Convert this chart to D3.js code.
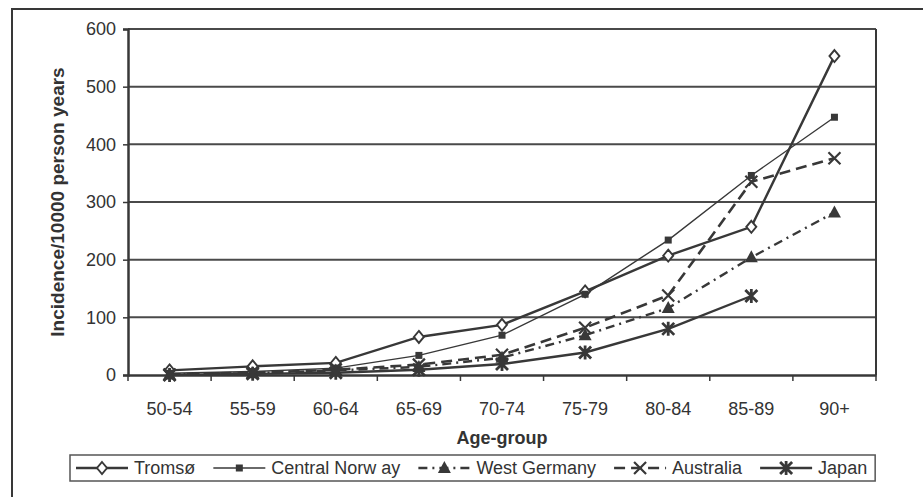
<!DOCTYPE html>
<html>
<head>
<meta charset="utf-8">
<script src="https://cdn.jsdelivr.net/npm/d3@7"></script>
<style>
  body { margin: 0; background: #fff; }
  text { font-family: "Liberation Sans", Arial, sans-serif; fill: #333; }
</style>
</head>
<body>
<div class="plot1"></div>
<script>
var ageGroups = ["50-54", "55-59", "60-64", "65-69", "70-74", "75-79", "80-84", "85-89", "90+"];
var yTicks = [0, 100, 200, 300, 400, 500, 600];
var tromso = [8, 15, 21, 66, 87, 145, 207, 257, 553];
var centralNorway = [3, 6, 12, 34, 69, 140, 234, 346, 447];
var westGermany = [1, 3, 8, 14, 30, 69, 116, 204, 282];
var australia = [1, 4, 9, 18, 35, 82, 138, 335, 376];
var japan = [0, 2, 4, 9, 19, 39, 80, 137, null];
var seriesNames = ["Tromsø", "Central Norw ay", "West Germany", "Australia", "Japan"];

var ink = "#383838";
var series = [
  {name: seriesNames[0], values: tromso, width: 2.4, dash: null, marker: "diamond"},
  {name: seriesNames[1], values: centralNorway, width: 1.4, dash: null, marker: "square"},
  {name: seriesNames[2], values: westGermany, width: 2.4, dash: "9,5,2,5", marker: "triangle"},
  {name: seriesNames[3], values: australia, width: 2.6, dash: "11,6", marker: "cross"},
  {name: seriesNames[4], values: japan, width: 2.4, dash: null, marker: "asterisk"}
];

var svg = d3.select(".plot1").append("svg")
  .attr("width", 923)
  .attr("height", 497);

// outer frame (cropped on the right and bottom)
svg.append("path")
  .attr("d", "M12,497 L12,9 L923,9")
  .attr("fill", "none")
  .attr("stroke", ink)
  .attr("stroke-width", 2);

var plotLeft = 128, plotRight = 876, plotTop = 29, plotBottom = 375;

var x = d3.scaleBand().domain(ageGroups).range([plotLeft, plotRight]);
var y = d3.scaleLinear().domain([0, 600]).range([plotBottom, plotTop]);

// grid lines
svg.append("g").selectAll("line")
  .data(yTicks.filter(function(d) { return d > 0; }))
  .enter().append("line")
  .attr("x1", plotLeft).attr("x2", plotRight)
  .attr("y1", function(d) { return y(d); })
  .attr("y2", function(d) { return y(d); })
  .attr("stroke", "#4a4a4a")
  .attr("stroke-width", 2);

// right border
svg.append("line")
  .attr("x1", plotRight).attr("x2", plotRight).attr("y1", plotTop).attr("y2", plotBottom)
  .attr("stroke", ink).attr("stroke-width", 2);

// y axis
var yAxis = svg.append("g")
  .attr("transform", "translate(" + plotLeft + ",0)")
  .call(d3.axisLeft(y).tickValues(yTicks).tickSize(5).tickPadding(7));
yAxis.select(".domain").attr("stroke", ink).attr("stroke-width", 2.5);
yAxis.selectAll(".tick line").attr("stroke", ink).attr("stroke-width", 1.5);
yAxis.selectAll(".tick text")
  .style("font-size", "18px").attr("fill", "#333");

// x axis
var xAxis = svg.append("g")
  .attr("transform", "translate(0," + plotBottom + ")")
  .call(d3.axisBottom(x).tickSize(0).tickPadding(27));
xAxis.select(".domain").attr("stroke", ink).attr("stroke-width", 2.5);
xAxis.selectAll(".tick text")
  .style("font-size", "18px").attr("fill", "#333");
xAxis.append("g").selectAll("line")
  .data(d3.range(ageGroups.length + 1))
  .enter().append("line")
  .attr("x1", function(i) { return plotLeft + i * x.step(); })
  .attr("x2", function(i) { return plotLeft + i * x.step(); })
  .attr("y1", 0).attr("y2", 6)
  .attr("stroke", ink).attr("stroke-width", 1.5);

// axis titles
svg.append("text")
  .attr("transform", "translate(64," + ((plotTop + plotBottom) / 2) + ") rotate(-90)")
  .attr("text-anchor", "middle")
  .style("font-size", "19px")
  .style("font-weight", "bold")
  .text("Incidence/10000 person years");

svg.append("text")
  .attr("x", (plotLeft + plotRight) / 2)
  .attr("y", 444)
  .attr("text-anchor", "middle")
  .style("font-size", "18px")
  .style("font-weight", "bold")
  .text("Age-group");

function drawMarker(g, type) {
  if (type === "diamond") {
    g.append("path").attr("d", "M0,-6 L5,0 L0,6 L-5,0 Z")
      .attr("fill", "#fff").attr("stroke", ink).attr("stroke-width", 1.9);
  } else if (type === "square") {
    g.append("rect").attr("x", -3.5).attr("y", -3.5).attr("width", 7).attr("height", 7)
      .attr("fill", ink);
  } else if (type === "triangle") {
    g.append("path").attr("d", "M0,-7 L6.5,5 L-6.5,5 Z").attr("fill", ink);
  } else if (type === "cross") {
    g.append("path").attr("d", "M-6,-6 L6,6 M-6,6 L6,-6")
      .attr("stroke", ink).attr("stroke-width", 2.2);
  } else if (type === "asterisk") {
    g.append("path").attr("d", "M-6,-6 L6,6 M-6,6 L6,-6 M0,-7 L0,7")
      .attr("stroke", ink).attr("stroke-width", 2.8);
  }
}

var line = d3.line()
  .defined(function(d) { return d !== null; })
  .x(function(d, i) { return x(ageGroups[i]) + x.bandwidth() / 2; })
  .y(function(d) { return y(d); });

series.forEach(function(s) {
  svg.append("path")
    .datum(s.values)
    .attr("d", line)
    .attr("fill", "none")
    .attr("stroke", ink)
    .attr("stroke-width", s.width)
    .attr("stroke-dasharray", s.dash);
});

series.forEach(function(s) {
  s.values.forEach(function(v, i) {
    if (v === null) return;
    var g = svg.append("g")
      .attr("transform", "translate(" + (x(ageGroups[i]) + x.bandwidth() / 2) + "," + y(v) + ")");
    drawMarker(g, s.marker);
  });
});

// legend
var legend = svg.append("g");
var legBox = legend.append("rect")
  .attr("fill", "#fff").attr("stroke", "#555").attr("stroke-width", 1.5);
var lx = 76, ly = 468;
series.forEach(function(s) {
  var g = legend.append("g");
  g.append("line")
    .attr("x1", lx).attr("x2", lx + 52).attr("y1", ly).attr("y2", ly)
    .attr("stroke", ink).attr("stroke-width", s.width)
    .attr("stroke-dasharray", s.dash);
  drawMarker(g.append("g").attr("transform", "translate(" + (lx + 26) + "," + ly + ")"), s.marker);
  var t = g.append("text")
    .attr("x", lx + 58).attr("y", ly + 6)
    .style("font-size", "18px")
    .text(s.name);
  lx += 58 + t.node().getComputedTextLength() + 18;
});
legBox.attr("x", 70).attr("y", 455).attr("width", lx - 80).attr("height", 26);
</script>
</body>
</html>
